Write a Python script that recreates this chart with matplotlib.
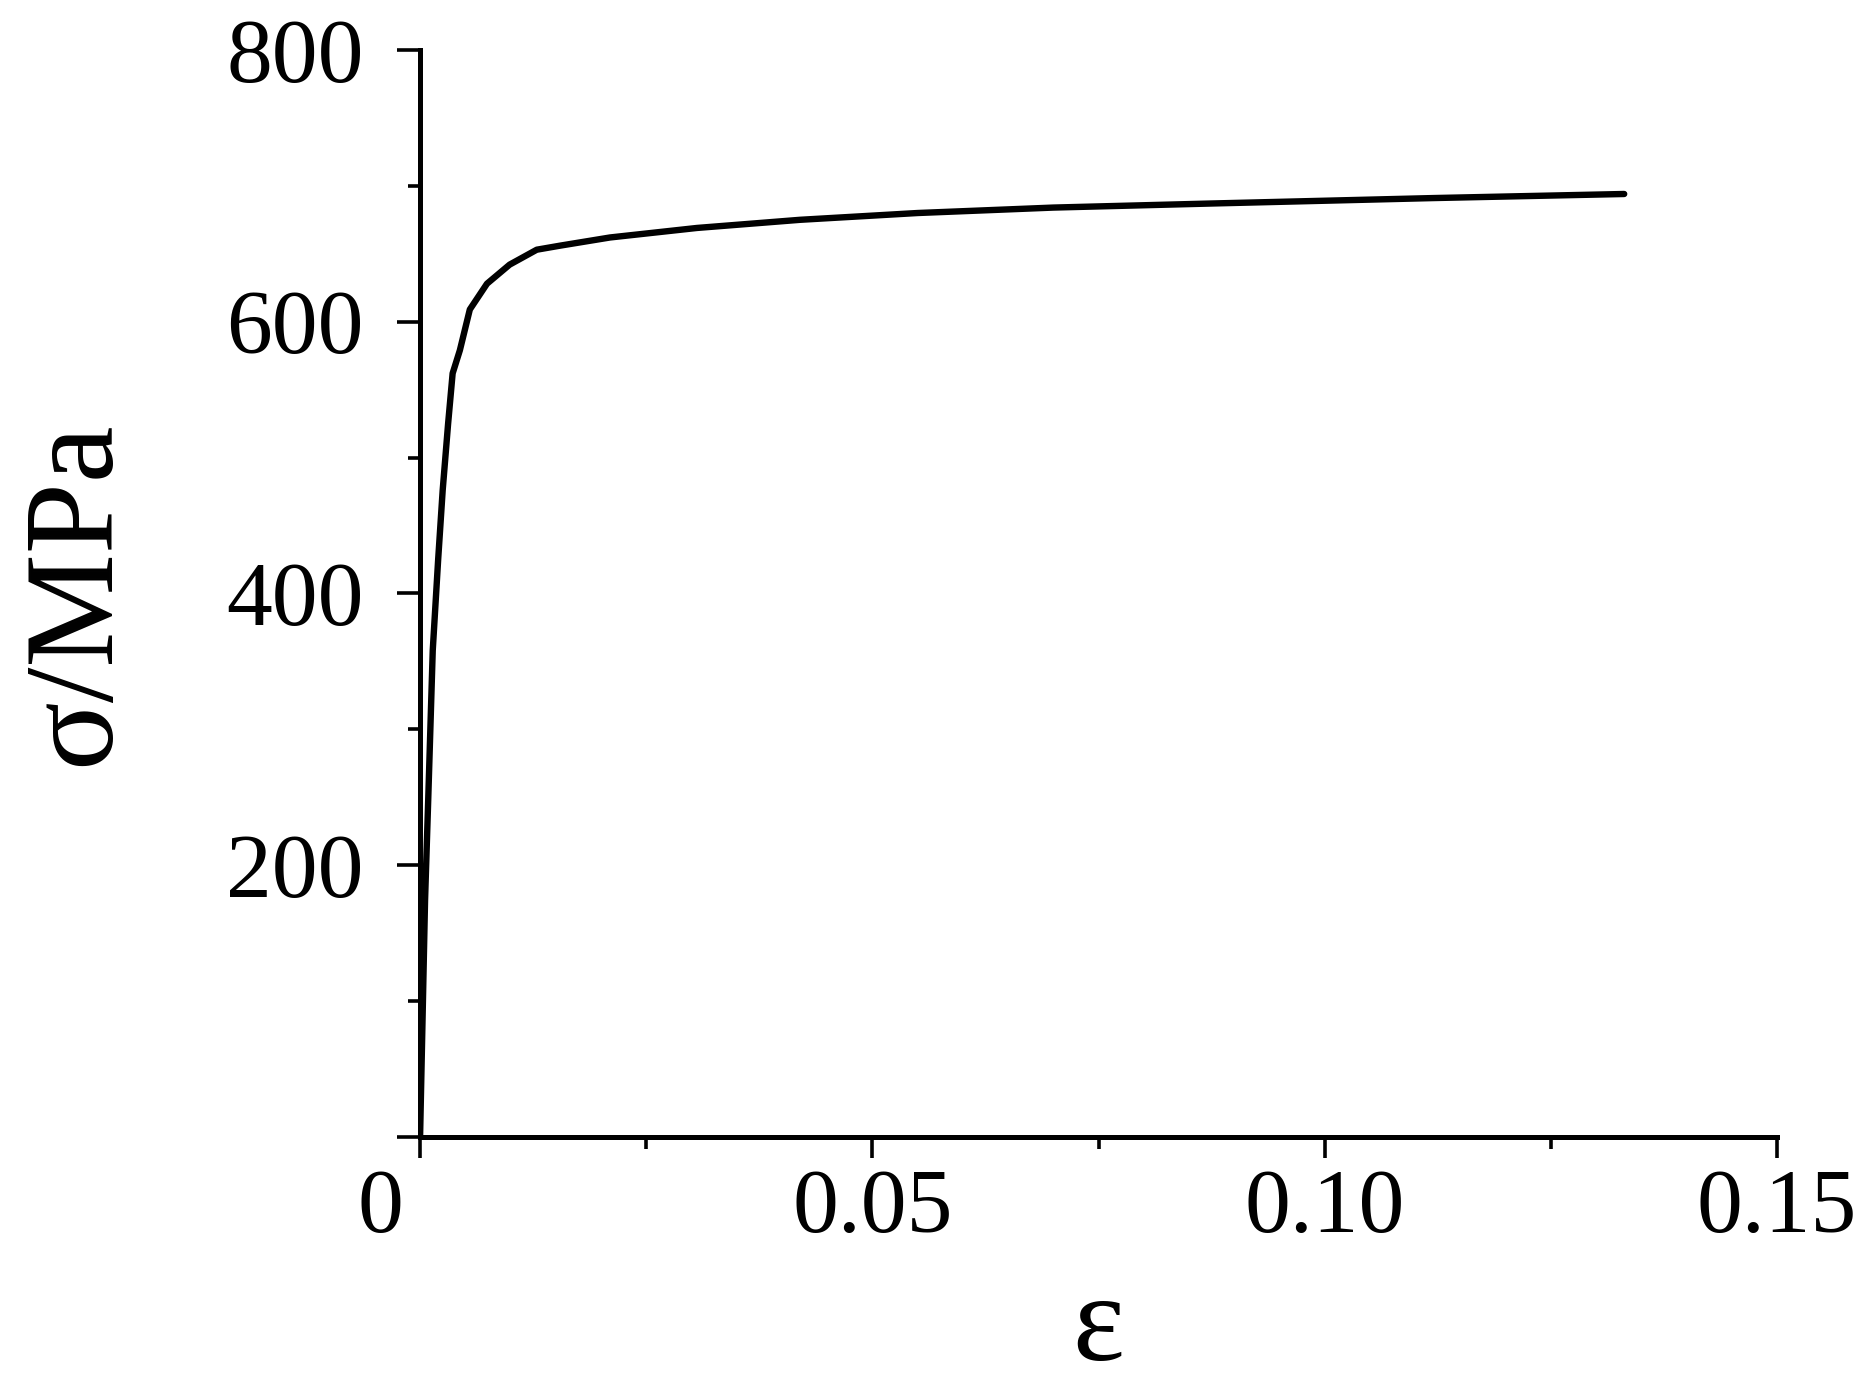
import numpy as np
import matplotlib
matplotlib.use('Agg')
import matplotlib.pyplot as plt
from matplotlib.ticker import MultipleLocator
import matplotlib.transforms as mtransforms

# strain / stress
strain = [0.0, 0.00055, 0.0009, 0.0014, 0.0020, 0.0025, 0.0031, 0.0036,
          0.0044, 0.0055, 0.0074, 0.0099, 0.0129, 0.0155, 0.0210, 0.0306,
          0.0420, 0.0550, 0.0700, 0.0875, 0.1120, 0.1331]
stress = [0, 174, 248, 358, 425, 476, 525, 562,
          579, 609, 628, 642, 653, 656, 662, 669,
          675, 680, 684, 687, 691, 694]

x_ticks = [0, 0.05, 0.10, 0.15]
x_tick_labels = ['0', '0.05', '0.10', '0.15']
y_ticks = [0, 200, 400, 600, 800]
y_tick_labels = ['', '200', '400', '600', '800']

plt.rcParams['font.family'] = ['Liberation Serif', 'DejaVu Serif']

fig = plt.figure(figsize=(18.62, 13.84), dpi=100)
ax = fig.add_axes([0.2256, 0.1785, 0.7288, 0.7854])

ax.plot(strain, stress, color='black', lw=4.6, solid_joinstyle='round',
        solid_capstyle='round')

ax.set_xlim(0, 0.15)
ax.set_ylim(0, 800)
ax.spines['top'].set_visible(False)
ax.spines['right'].set_visible(False)
for s in ['left', 'bottom']:
    ax.spines[s].set_linewidth(3.6)

ax.set_xticks(x_ticks)
ax.set_xticklabels(x_tick_labels)
ax.set_yticks(y_ticks)
ax.set_yticklabels(y_tick_labels)
ax.xaxis.set_minor_locator(MultipleLocator(0.025))
ax.yaxis.set_minor_locator(MultipleLocator(100))

ax.tick_params(axis='both', which='major', direction='out', width=2.6,
               labelsize=66, colors='black')
ax.tick_params(axis='x', which='major', length=15, pad=8)
ax.tick_params(axis='y', which='major', length=16.5, pad=24)
ax.tick_params(axis='both', which='minor', direction='out', width=2.6, length=8.5)

# the "0" sits left of its tick
lbl0 = ax.get_xticklabels()[0]
lbl0.set_transform(lbl0.get_transform() +
                   mtransforms.ScaledTranslation(-0.40, 0, fig.dpi_scale_trans))

ax.set_xlabel('ε', fontsize=89)
ax.xaxis.set_label_coords(0.5, -0.125)
ax.set_ylabel('σ/MPa', fontsize=92)
ax.yaxis.set_label_coords(-0.21, 0.5)

plt.savefig('out.png', dpi=100)
